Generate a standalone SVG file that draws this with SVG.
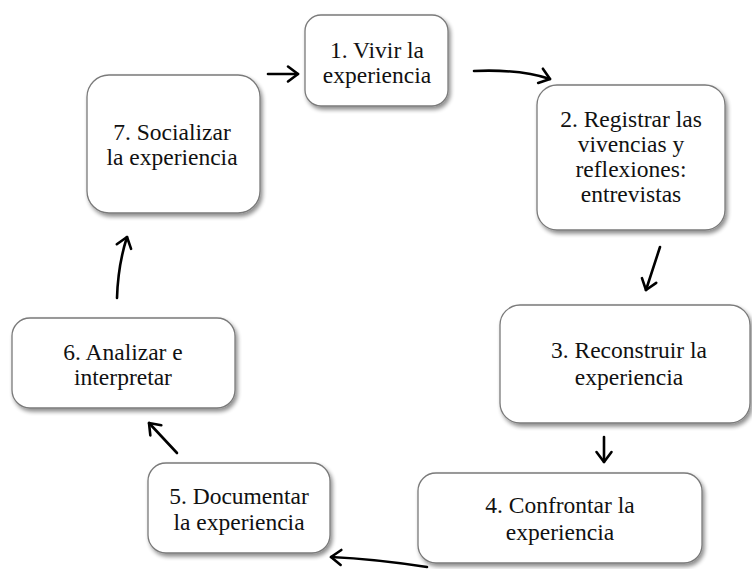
<svg xmlns="http://www.w3.org/2000/svg" width="752" height="569" viewBox="0 0 752 569">
  <defs>
    <filter id="sh" x="-10%" y="-10%" width="125%" height="130%">
      <feGaussianBlur in="SourceAlpha" stdDeviation="2"/>
      <feOffset dx="2" dy="3" result="b"/>
      <feComponentTransfer><feFuncA type="linear" slope="0.45"/></feComponentTransfer>
      <feMerge><feMergeNode/><feMergeNode in="SourceGraphic"/></feMerge>
    </filter>
    <marker id="ah" markerUnits="userSpaceOnUse" markerWidth="30" markerHeight="30" viewBox="-15 -15 30 30" refX="0" refY="0" orient="auto">
      <path d="M-10,-7.5 L0,0 L-10,7.5" fill="none" stroke="#000" stroke-width="2.6" stroke-linecap="round" stroke-linejoin="round"/>
    </marker>
  </defs>
  <style>
    .box { fill: #fff; stroke: #7a7a7a; stroke-width: 1.3; filter: url(#sh); }
    .t { font-family: "Liberation Serif", "Times New Roman", serif; font-size: 23.5px; fill: #111; text-anchor: middle; }
    .c { fill: none; stroke: #000; stroke-width: 2.6; stroke-linecap: round; marker-end: url(#ah); }
  </style>
  <rect width="752" height="569" fill="#fff"/>
  <g id="connectors">
    <path class="c" d="M268,74 L298,74"/>
    <path class="c" d="M474,71 Q520,69 550,79"/>
    <path class="c" d="M660,247 L646,290"/>
    <path class="c" d="M604,437 L604,462"/>
    <path class="c" d="M427,567 Q375,559 331,557"/>
    <path class="c" d="M177,453 L149,423"/>
    <path class="c" d="M117,298 Q118,265 127,237"/>
  </g>
  <g id="n1">
    <rect class="box" x="305" y="15" width="143" height="91" rx="16"/>
    <text class="t" x="377" y="58">1. Vivir la</text>
    <text class="t" x="377" y="83">experiencia</text>
  </g>
  <g id="n2">
    <rect class="box" x="537" y="85" width="188" height="145" rx="20"/>
    <text class="t" x="631" y="127">2. Registrar las</text>
    <text class="t" x="631" y="152">vivencias y</text>
    <text class="t" x="631" y="177">reflexiones:</text>
    <text class="t" x="631" y="202">entrevistas</text>
  </g>
  <g id="n3">
    <rect class="box" x="500" y="305" width="250" height="118" rx="20"/>
    <text class="t" x="629" y="358">3. Reconstruir la</text>
    <text class="t" x="629" y="385">experiencia</text>
  </g>
  <g id="n4">
    <rect class="box" x="418" y="473" width="284" height="90" rx="18"/>
    <text class="t" x="560" y="513">4. Confrontar la</text>
    <text class="t" x="560" y="540">experiencia</text>
  </g>
  <g id="n5">
    <rect class="box" x="148" y="463" width="182" height="90" rx="18"/>
    <text class="t" x="239" y="504">5. Documentar</text>
    <text class="t" x="239" y="530">la experiencia</text>
  </g>
  <g id="n6">
    <rect class="box" x="12" y="318" width="223" height="90" rx="18"/>
    <text class="t" x="123" y="360">6. Analizar e</text>
    <text class="t" x="123" y="385">interpretar</text>
  </g>
  <g id="n7">
    <rect class="box" x="87" y="75" width="173" height="138" rx="22"/>
    <text class="t" x="172" y="140">7. Socializar</text>
    <text class="t" x="172" y="165">la experiencia</text>
  </g>
</svg>
